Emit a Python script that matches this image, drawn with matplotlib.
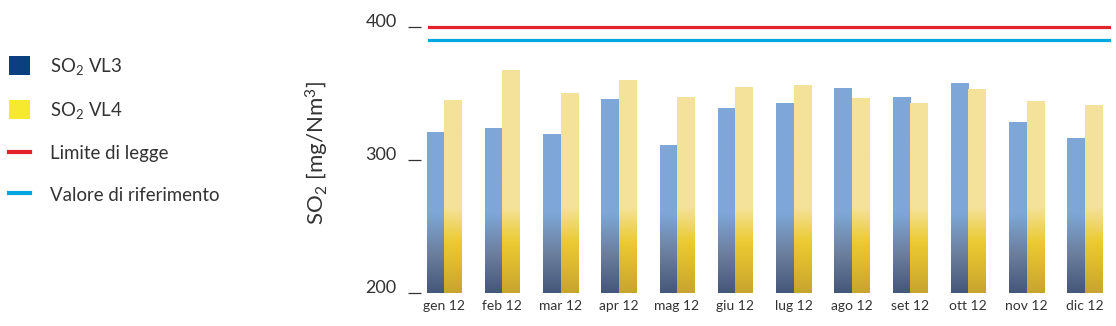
import numpy as np
import matplotlib
matplotlib.use('Agg')
from matplotlib import pyplot as plt
from matplotlib.colors import LinearSegmentedColormap
from matplotlib.patches import Patch
from matplotlib.lines import Line2D

plt.rcParams['font.family'] = ['Lato', 'DejaVu Sans']
plt.rcParams['mathtext.default'] = 'regular'

# data
months = ['gen 12', 'feb 12', 'mar 12', 'apr 12', 'mag 12', 'giu 12',
          'lug 12', 'ago 12', 'set 12', 'ott 12', 'nov 12', 'dic 12']
vl3 = [321, 324, 319.5, 345.5, 311, 339, 343, 354, 347, 358, 328.5, 316.5]
vl4 = [345, 367.5, 350, 360, 347, 355, 356, 346.5, 343, 353, 344, 341]
limite = 400
riferimento = 390

txt = '#333333'

# gradients fixed on the value axis (200 -> 400)
cm_blue = LinearSegmentedColormap.from_list('b', [(0, '#44577a'), (0.14, '#6b7d9b'),
                                                  (0.30, '#7ea7d8'), (1, '#7ea7d8')])
cm_yell = LinearSegmentedColormap.from_list('y', [(0, '#c7a42f'), (0.10, '#dcb92e'),
                                                  (0.19, '#ebca33'), (0.32, '#f5e29a'),
                                                  (1, '#f5e29a')])
grad = np.linspace(0, 1, 256).reshape(-1, 1)

fig = plt.figure(figsize=(11.16, 3.26), dpi=100)
ax = fig.add_axes([428/1116, 1 - 293.3/326, 683/1116, 280/326])

x = np.arange(len(months))
w = 0.3
b1 = ax.bar(x - w/2, vl3, w, bottom=0, fc='none', ec='none')
b2 = ax.bar(x + w/2, vl4, w, bottom=0, fc='none', ec='none')
for bars, cmap in ((b1, cm_blue), (b2, cm_yell)):
    for r in bars:
        x0 = r.get_x()
        im = ax.imshow(grad, cmap=cmap, origin='lower', aspect='auto',
                       extent=(x0, x0 + r.get_width(), 200, 400), zorder=2)
        im.set_clip_path(r)

ax.axhline(limite, color='#e3222b', lw=2.3, zorder=3)
ax.axhline(riferimento, color='#00a6df', lw=2.3, zorder=3)

for s in ['top', 'right', 'bottom']:
    ax.spines[s].set_visible(False)
ax.spines['left'].set_position(('outward', 5))  # this resets the ticks
ax.spines['left'].set_visible(False)

ax.set_xlim(-0.275, 11.45)
ax.set_ylim(200, 410)
ax.set_yticks([200, 300, 400])
ax.set_xticks(x)
ax.set_xticklabels(months, fontsize=10, color=txt)
ax.tick_params(axis='x', length=0, pad=5)
ax.tick_params(axis='y', length=9.5, width=0.9, color=txt, labelcolor=txt,
               labelsize=13, pad=8)
# labels sit a little above their tick marks
for lab in ax.get_yticklabels():
    lab.set_verticalalignment('baseline')
ax.set_ylabel('SO$_2$ [mg/Nm$^3$]', fontsize=16, color=txt, labelpad=25)

handles = [Patch(fc='#0b3f7f', ec='none'), Patch(fc='#f6ea2f', ec='none'),
           Line2D([], [], color='#e3222b', lw=3), Line2D([], [], color='#00a6df', lw=3)]
labels = ['SO$_2$ VL3', 'SO$_2$ VL4', 'Limite di legge', 'Valore di riferimento']
fig.legend(handles, labels, loc='upper left', bbox_to_anchor=(-0.004, 0.869),
           frameon=False, fontsize=13.4, handlelength=1.13, handleheight=1.13,
           handletextpad=1.08, labelspacing=1.24, labelcolor=txt, borderaxespad=0.3)

plt.savefig('out.png', dpi=100)
